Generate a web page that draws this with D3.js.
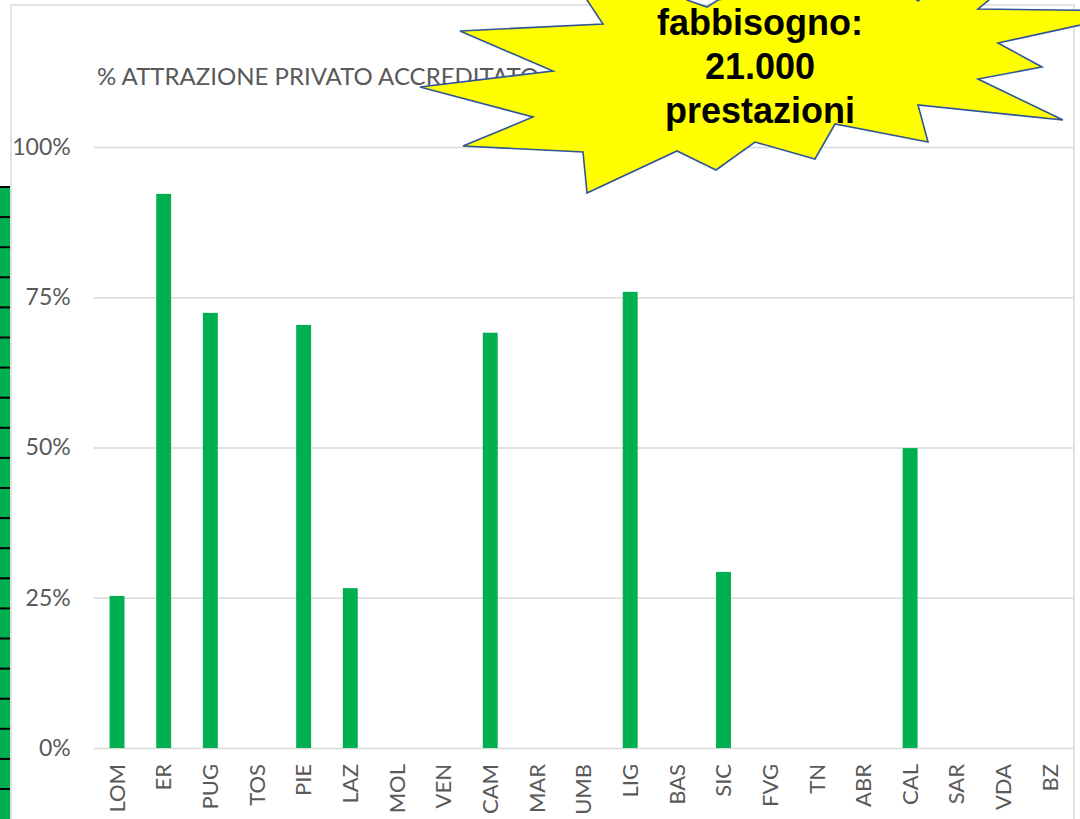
<!DOCTYPE html>
<html>
<head>
<meta charset="utf-8">
<script src="https://cdn.jsdelivr.net/npm/d3@7"></script>
<style>
  html, body { margin: 0; padding: 0; background: #ffffff; }
  svg { display: block; }
</style>
</head>
<body>
<svg id="chart" width="1080" height="819"></svg>
<script>
// Regions (Italian region codes) and share of demand attracted by accredited private providers
const regions = ["LOM","ER","PUG","TOS","PIE","LAZ","MOL","VEN","CAM","MAR","UMB","LIG","BAS","SIC","FVG","TN","ABR","CAL","SAR","VDA","BZ"];
const attractionShare = [0.253, 0.922, 0.724, 0, 0.704, 0.266, 0, 0, 0.691, 0, 0, 0.759, 0, 0.293, 0, 0, 0, 0.499, 0, 0, 0];
const yTicks = [0, 0.25, 0.5, 0.75, 1];
const chartTitle = "% ATTRAZIONE PRIVATO ACCREDITATO";
const calloutLines = ["fabbisogno:", "21.000", "prestazioni"];

const svg = d3.select("#chart");
const W = 1080, H = 819;
const plot = { left: 93.7, right: 1073.4, top: 147, bottom: 748 };

const textGray = "#595959";
const gridGray = "#d9d9d9";
const barGreen = "#00b050";
const labelFont = "Lato, 'Open Sans', sans-serif";

// Chart area frame
svg.append("path")
  .attr("d", `M11,${H} V5 H1074 V${H}`)
  .attr("fill", "none")
  .attr("stroke", "#e2e2e2")
  .attr("stroke-width", 2);

const x = d3.scaleBand()
  .domain(regions)
  .range([plot.left, plot.right])
  .paddingInner(0.68)
  .paddingOuter(0.34);

const y = d3.scaleLinear()
  .domain([0, 1])
  .range([plot.bottom, plot.top]);

// Horizontal gridlines with percentage labels
const yAxis = d3.axisLeft(y)
  .tickValues(yTicks)
  .tickSize(-(plot.right - plot.left))
  .tickPadding(23)
  .tickFormat(d3.format(".0%"));

const yG = svg.append("g")
  .attr("transform", `translate(${plot.left},0)`)
  .call(yAxis);
yG.select(".domain").remove();
yG.selectAll(".tick line").attr("stroke", gridGray).attr("stroke-width", 1.5);
yG.selectAll(".tick text")
  .attr("fill", textGray)
  .style("font-family", labelFont)
  .style("font-size", "23px");

// Bars
svg.append("g")
  .selectAll("rect")
  .data(regions.map((r, i) => ({ region: r, value: attractionShare[i] })))
  .join("rect")
  .attr("x", d => x(d.region))
  .attr("width", x.bandwidth())
  .attr("y", d => y(d.value))
  .attr("height", d => y(0) - y(d.value))
  .attr("fill", barGreen);

// Category labels, rotated
const xAxis = d3.axisBottom(x).tickSize(0).tickPadding(0);
const xG = svg.append("g")
  .attr("transform", `translate(0,${plot.bottom})`)
  .call(xAxis);
xG.select(".domain").remove();
xG.selectAll(".tick text")
  .attr("fill", textGray)
  .style("font-family", labelFont)
  .style("font-size", "22px")
  .attr("transform", "translate(0,16) rotate(-90)")
  .attr("text-anchor", "end")
  .attr("dx", 0)
  .attr("dy", "0.35em")
  .attr("x", 0)
  .attr("y", 0);

// Title
svg.append("text")
  .attr("x", 97)
  .attr("y", 85)
  .attr("fill", textGray)
  .style("font-family", labelFont)
  .style("font-size", "24px")
  .text(chartTitle);

// Green ruler strip at the left edge
const strip = svg.append("g");
strip.append("rect")
  .attr("x", 0).attr("y", 187)
  .attr("width", 10).attr("height", H - 187)
  .attr("fill", barGreen);
strip.selectAll("line")
  .data(d3.range(187, H, 30.1))
  .join("line")
  .attr("x1", 0).attr("x2", 10)
  .attr("y1", d => d).attr("y2", d => d)
  .attr("stroke", "#000")
  .attr("stroke-width", 2);

// Starburst callout
const starPoints = [
  [579, -12], [603, 24], [460, 31], [553, 71], [420, 87], [533, 117], [463, 146],
  [583, 152], [587, 193], [677, 151], [716, 170], [755, 142], [815, 159], [835, 124],
  [928, 142], [918, 105], [1063, 120], [978, 79], [1042, 67], [998, 43], [1145, 11],
  [978, 9], [995, -5], [960, -30], [918, 1], [880, -30], [718, 0], [707, 7], [687, 0], [640, -30]
];
svg.append("path")
  .attr("d", d3.line()(starPoints) + "Z")
  .attr("fill", "#ffff00")
  .attr("stroke", "#2f5597")
  .attr("stroke-width", 1.6)
  .attr("stroke-linejoin", "miter");

svg.append("g")
  .selectAll("text")
  .data(calloutLines)
  .join("text")
  .attr("x", 760)
  .attr("y", (d, i) => 35 + i * 44)
  .attr("text-anchor", "middle")
  .attr("fill", "#000")
  .style("font-family", "'Liberation Sans', Arial, sans-serif")
  .style("font-weight", "bold")
  .style("font-size", "36px")
  .text(d => d);
</script>
</body>
</html>
